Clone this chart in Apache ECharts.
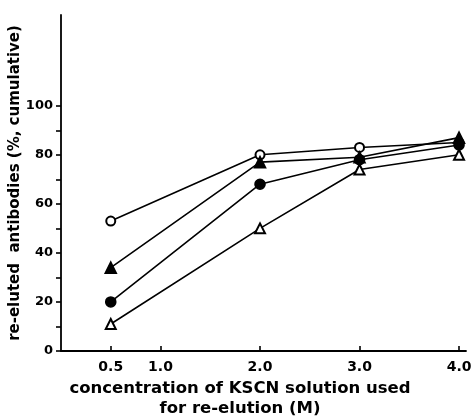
<!DOCTYPE html>
<html>
<head>
    <meta charset="utf-8">
    <title>KSCN re-elution</title>
    <script src="https://cdn.jsdelivr.net/npm/echarts@6/dist/echarts.min.js"></script>
</head>
<body style="margin:0">
    <div id="main" style="width: 472px;height:417px;"></div>
    <script type="text/javascript">
        // KSCN concentration (M)
        var conc = [0.5, 2.0, 3.0, 4.0];
        // cumulative re-eluted antibodies (%)
        var openCircle = [53, 80, 83, 85];
        var filledTriangle = [34, 77, 79, 87];
        var filledCircle = [20, 68, 78, 84];
        var openTriangle = [11, 50, 74, 80];

        var xTicks = [0.5, 1.0, 2.0, 3.0, 4.0];
        var yTicks = [0, 10, 20, 30, 40, 50, 60, 70, 80, 90, 100];
        var yLabels = [0, 20, 40, 60, 80, 100];

        var font = 'DejaVu Sans';
        var myChart = echarts.init(document.getElementById('main'));

        function pairs(ys) {
            return conc.map(function (x, i) { return [x, ys[i]]; });
        }
        function line(name, ys, symbol, size) {
            return {
                name: name,
                type: 'line',
                data: pairs(ys),
                symbol: symbol,
                symbolSize: size,
                showSymbol: true,
                lineStyle: { color: '#000', width: 1.6 },
                itemStyle: { color: '#000', borderColor: '#000', borderWidth: 1.6 },
                emphasis: { disabled: true },
                z: 3
            };
        }

        var option = {
            animation: false,
            backgroundColor: '#fff',
            title: {
                text: 'concentration of KSCN solution used\nfor re-elution (M)',
                left: 235,
                top: 374,
                textAlign: 'center',
                textStyle: { fontFamily: font, fontSize: 16.5, fontWeight: 'bold', color: '#000', lineHeight: 20 }
            },
            grid: { left: 61, right: 6, top: 15, bottom: 66, outerBoundsMode: 'none', containLabel: false },
            xAxis: {
                type: 'value',
                min: 0,
                max: 4.07,
                splitLine: { show: false },
                axisLine: { lineStyle: { color: '#000', width: 1.8 } },
                axisTick: { inside: true, length: 5, customValues: xTicks, lineStyle: { color: '#000', width: 1.6 } },
                axisLabel: {
                    customValues: xTicks,
                    formatter: function (v) { return v.toFixed(1); },
                    fontFamily: font, fontSize: 14, fontWeight: 'bold', color: '#000', margin: 9
                }
            },
            yAxis: {
                type: 'value',
                min: 0,
                max: 137,
                name: 're-eluted  antibodies (%, cumulative)',
                nameLocation: 'middle',
                nameGap: 38,
                nameMoveOverlap: false,
                nameTextStyle: { fontFamily: font, fontSize: 15, fontWeight: 'bold', color: '#000' },
                splitLine: { show: false },
                axisLine: { show: true, lineStyle: { color: '#000', width: 1.8 } },
                axisTick: { show: true, length: 5, customValues: yTicks, lineStyle: { color: '#000', width: 1.6 } },
                axisLabel: {
                    customValues: yLabels,
                    fontFamily: font, fontSize: 13, fontWeight: 'bold', color: '#000', margin: 8
                }
            },
            series: [
                line('open circle', openCircle, 'emptyCircle', 9),
                line('filled triangle', filledTriangle, 'triangle', 11),
                line('filled circle', filledCircle, 'circle', 10),
                line('open triangle', openTriangle, 'emptyTriangle', 10)
            ]
        };

        myChart.setOption(option);
    </script>
</body>
</html>
